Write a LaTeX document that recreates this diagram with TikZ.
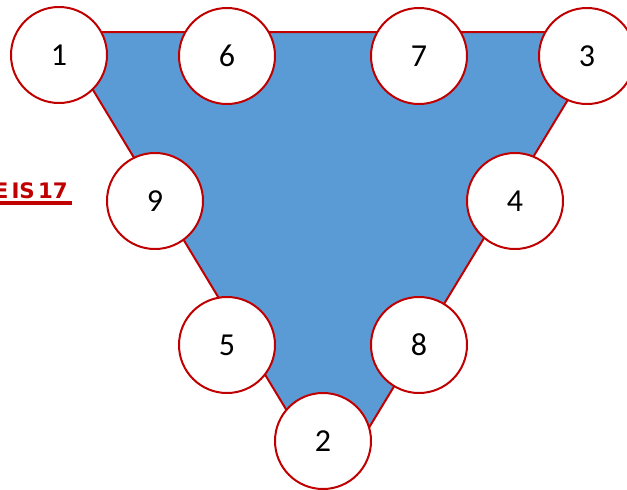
\documentclass[tikz,border=0pt]{standalone}
\usepackage{fontspec}
\setmainfont{Carlito}
\newfontfamily\labelfont{DejaVu Sans}
\usetikzlibrary{positioning,calc}
\definecolor{fillblue}{RGB}{91,155,213}
\definecolor{darkred}{RGB}{192,0,0}

\tikzset{
  num/.style={circle,draw=darkred,line width=1.5pt,fill=white,minimum size=72pt,inner sep=0pt,font=\fontsize{24}{28}\selectfont},
}

\begin{document}
\begin{tikzpicture}[x=0.75pt,y=-0.75pt]
    \useasboundingbox (0,0) rectangle (627,489);
    % triangle behind the circles
    \coordinate (tl) at (58,32);
    \coordinate (tr) at (609,32);
    \coordinate (bt) at (333,487);
    \filldraw[fill=fillblue,draw=darkred,line width=1.5pt,line join=miter] (tl) -- (tr) -- (bt) -- cycle;
    % numbered circles
    \node[num] (n1) at (59,55) {1};
    \node[num] (n6) at (227,56) {6};
    \node[num] (n7) at (419,56) {7};
    \node[num] (n3) at (587,56) {3};
    \node[num] (n9) at (155,201) {9};
    \node[num] (n4) at (515,201) {4};
    \node[num] (n5) at (227,345) {5};
    \node[num] (n8) at (419,345) {8};
    \node[num] (n2) at (323,441) {2};
    \node[anchor=base east,inner sep=0pt,text=darkred,font=\labelfont\fontsize{16}{20}\bfseries\selectfont] (sum) at (68,198) {E\hspace{0.15em}IS\hspace{0.15em}17};
    \draw[darkred,line width=2.5pt] ($(sum.base west)+(0,5)$) -- ($(sum.base east)+(4,5)$);
\end{tikzpicture}
\end{document}
